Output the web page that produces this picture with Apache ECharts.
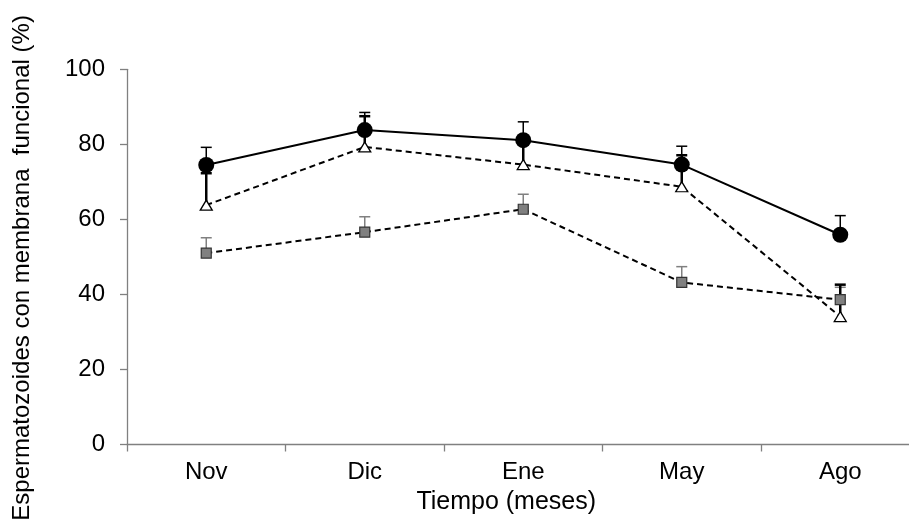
<!DOCTYPE html>
<html>
<head>
<meta charset="utf-8">
<script src="https://cdn.jsdelivr.net/npm/echarts@6/dist/echarts.min.js"></script>
<style>
html,body{margin:0;padding:0;background:#fff;}
#c{width:909px;height:519px;}
</style>
</head>
<body>
<div id="c"></div>
<script>
var categories = ['Nov', 'Dic', 'Ene', 'May', 'Ago'];
var yTicks = [0, 20, 40, 60, 80, 100];

var circleVals = [74.5, 83.8, 81.1, 74.6, 55.9];
var circleErrTop = [79.2, 88.5, 86.0, 79.5, 61.0];

var triVals = [63.8, 79.3, 74.6, 68.7, 34.1];
var triErrTop = [72.3, 87.5, 80.5, 77.1, 42.6];

var sqVals = [51.0, 56.6, 62.7, 43.2, 38.6];
var sqErrTop = [55.1, 60.7, 66.7, 47.4, 41.9];

function errData(vals, tops) {
  return vals.map(function (v, i) { return [i, v, tops[i]]; });
}
function errSeries(vals, tops, color, width, z) {
  return {
    type: 'custom',
    z: z,
    silent: true,
    data: errData(vals, tops),
    encode: { x: 0, y: [1, 2] },
    renderItem: function (params, api) {
      var x = api.value(0);
      var p0 = api.coord([x, api.value(1)]);
      var p1 = api.coord([x, api.value(2)]);
      var hw = 5.5;
      return {
        type: 'group',
        children: [
          { type: 'line', shape: { x1: p0[0], y1: p0[1], x2: p1[0], y2: p1[1] },
            style: { stroke: color, lineWidth: width } },
          { type: 'line', shape: { x1: p1[0] - hw, y1: p1[1], x2: p1[0] + hw, y2: p1[1] },
            style: { stroke: color, lineWidth: width } }
        ]
      };
    }
  };
}

var chart = echarts.init(document.getElementById('c'), null, { renderer: 'canvas' });
var font = 'Liberation Sans, Arial, sans-serif';
chart.setOption({
  animation: false,
  backgroundColor: '#ffffff',
  grid: { left: 127, right: -10.5, top: 69.3, bottom: 74.5, containLabel: false, outerBoundsMode: 'none' },
  xAxis: {
    type: 'category',
    data: categories,
    boundaryGap: true,
    axisLine: { lineStyle: { color: '#808080', width: 1.3 } },
    axisTick: { show: true, length: 7, interval: 0, lineStyle: { color: '#808080', width: 1.3 } },
    axisLabel: { fontSize: 24, color: '#000', fontFamily: font, margin: 16 },
    name: 'Tiempo (meses)',
    nameLocation: 'middle',
    nameGap: 37,
    nameTextStyle: { fontSize: 25, color: '#000', fontFamily: font, padding: [0, 34, 0, 0] }
  },
  yAxis: {
    type: 'value',
    min: yTicks[0],
    max: yTicks[yTicks.length - 1],
    interval: 20,
    axisLine: { show: true, lineStyle: { color: '#808080', width: 1.3 } },
    axisTick: { show: true, length: 7, lineStyle: { color: '#808080', width: 1.3 } },
    splitLine: { show: false },
    axisLabel: { fontSize: 24, color: '#000', fontFamily: font, margin: 22 },
    name: 'Espermatozoides con membrana  funcional (%)',
    nameLocation: 'middle',
    nameGap: 93,
    nameTextStyle: { fontSize: 24, color: '#000', fontFamily: font, padding: [0, 22, 0, 0] }
  },
  series: [
    errSeries(sqVals, sqErrTop, '#808080', 1.5, 1),
    errSeries(triVals, triErrTop, '#000000', 2.5, 1),
    errSeries(circleVals, circleErrTop, '#000000', 1.5, 1),
    {
      type: 'line', z: 3,
      data: sqVals,
      symbol: 'rect', symbolSize: 10,
      lineStyle: { color: '#000', width: 2, type: [6, 4] },
      itemStyle: { color: '#808080', borderColor: '#333', borderWidth: 1.2 }
    },
    {
      type: 'line', z: 4,
      data: triVals,
      symbol: 'triangle', symbolSize: [12, 10],
      lineStyle: { color: '#000', width: 2, type: [6, 4] },
      itemStyle: { color: '#ffffff', borderColor: '#000', borderWidth: 1.3 }
    },
    {
      type: 'line', z: 5,
      data: circleVals,
      symbol: 'circle', symbolSize: 16,
      lineStyle: { color: '#000', width: 2, type: 'solid' },
      itemStyle: { color: '#000', borderColor: '#000', borderWidth: 0 }
    }
  ]
});
</script>
</body>
</html>
